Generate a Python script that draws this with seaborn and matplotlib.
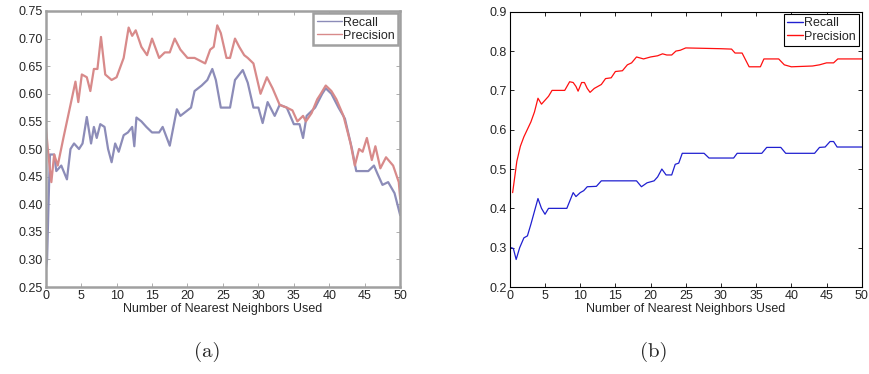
import matplotlib
matplotlib.use("Agg")
import matplotlib.pyplot as plt
import pandas as pd
import seaborn as sns

# (a) values
a_recall_x = [0, 0.2, 0.4, 0.6, 1.2, 1.5, 2.2, 3.0, 3.5, 4.0, 4.7, 5.2, 5.8, 6.4, 6.8, 7.2, 7.7,
              8.3, 8.8, 9.3, 9.8, 10.3, 11.0, 11.6, 12.2, 12.5, 12.8, 13.5, 14.2, 15.0, 16.0,
              16.5, 17.5, 18.5, 19.0, 20.5, 21.0, 22.0, 22.8, 23.5, 24.0, 24.7, 26.0, 26.7,
              27.8, 28.5, 29.3, 30.0, 30.6, 31.3, 32.3, 33.0, 34.0, 35.0, 35.8, 36.3, 36.8,
              38.0, 39.0, 39.5, 40.3, 41.3, 42.2, 43.2, 43.8, 45.5, 46.3, 46.8, 47.5, 48.3,
              49.2, 50.0]
a_recall_y = [0.28, 0.30, 0.40, 0.49, 0.49, 0.46, 0.47, 0.445, 0.50, 0.51, 0.50, 0.51, 0.558,
              0.51, 0.54, 0.52, 0.545, 0.54, 0.50, 0.476, 0.51, 0.495, 0.525, 0.53, 0.54, 0.505,
              0.557, 0.55, 0.54, 0.53, 0.53, 0.54, 0.506, 0.572, 0.56, 0.575, 0.605, 0.615,
              0.625, 0.645, 0.625, 0.575, 0.575, 0.625, 0.643, 0.62, 0.575, 0.575, 0.547, 0.585,
              0.56, 0.58, 0.575, 0.545, 0.545, 0.52, 0.56, 0.575, 0.60, 0.61, 0.60, 0.575,
              0.555, 0.50, 0.46, 0.46, 0.47, 0.455, 0.435, 0.44, 0.42, 0.38]

a_prec_x = [0, 0.3, 0.8, 1.2, 1.7, 2.5, 3.5, 4.2, 4.6, 5.1, 5.8, 6.3, 6.8, 7.3, 7.8, 8.4, 9.3,
            10.0, 11.0, 11.7, 12.2, 12.7, 13.5, 14.3, 15.0, 16.0, 16.8, 17.5, 18.2, 19.0,
            20.0, 21.0, 22.5, 23.2, 23.7, 24.2, 24.7, 25.5, 26.0, 26.7, 27.3, 28.0, 28.5,
            29.3, 30.3, 31.2, 32.0, 33.0, 34.0, 34.8, 35.5, 36.3, 36.7, 37.5, 38.3, 38.8,
            39.5, 40.3, 41.0, 42.0, 43.0, 43.6, 44.2, 44.7, 45.3, 46.0, 46.5, 47.2, 48.0,
            49.0, 49.8, 50.0]
a_prec_y = [0.545, 0.50, 0.44, 0.49, 0.47, 0.52, 0.58, 0.622, 0.585, 0.635, 0.63, 0.605, 0.645,
            0.645, 0.703, 0.635, 0.625, 0.63, 0.665, 0.72, 0.705, 0.715, 0.685, 0.67, 0.70,
            0.665, 0.675, 0.675, 0.70, 0.68, 0.665, 0.665, 0.655, 0.68, 0.685, 0.724, 0.71,
            0.665, 0.665, 0.70, 0.685, 0.67, 0.665, 0.655, 0.60, 0.63, 0.61, 0.58, 0.575,
            0.57, 0.55, 0.56, 0.55, 0.565, 0.59, 0.60, 0.615, 0.605, 0.59, 0.56, 0.51, 0.47,
            0.50, 0.495, 0.52, 0.48, 0.505, 0.465, 0.485, 0.47, 0.44, 0.41]

# (b) values
b_prec_x = [0.4, 1.0, 1.5, 2.0, 3.0, 3.5, 4.0, 4.5, 5.0, 5.5, 6.0, 7.8, 8.5, 9.0, 9.4, 9.7,
            10.2, 10.6, 11.0, 11.4, 12.0, 12.5, 13.0, 13.6, 14.4, 15.0, 16.0, 16.7, 17.3,
            18.0, 19.0, 20.0, 21.0, 21.7, 22.3, 23.0, 23.6, 24.2, 25.0, 30.0, 31.5, 32.0,
            33.0, 34.0, 35.6, 36.1, 38.2, 39.0, 40.0, 43.0, 44.0, 45.0, 46.0, 46.6, 50.0]
b_prec_y = [0.44, 0.52, 0.558, 0.582, 0.62, 0.645, 0.68, 0.665, 0.675, 0.685, 0.70, 0.70,
            0.722, 0.72, 0.71, 0.698, 0.72, 0.72, 0.705, 0.695, 0.705, 0.71, 0.715, 0.73,
            0.732, 0.748, 0.75, 0.765, 0.77, 0.785, 0.78, 0.785, 0.788, 0.793, 0.79, 0.79,
            0.80, 0.802, 0.808, 0.806, 0.805, 0.795, 0.795, 0.76, 0.76, 0.78, 0.78, 0.765,
            0.76, 0.762, 0.765, 0.77, 0.77, 0.78, 0.78]

b_recall_x = [0.2, 0.5, 0.9, 1.4, 2.0, 2.5, 3.0, 4.0, 4.5, 5.0, 5.5, 8.1, 9.0, 9.4, 10.0, 10.5,
              11.0, 12.3, 13.0, 18.0, 18.7, 19.5, 20.5, 21.0, 21.6, 22.2, 23.0, 23.5, 24.0,
              24.5, 27.6, 28.3, 31.8, 32.3, 35.8, 36.5, 38.5, 39.2, 43.3, 44.0, 44.8, 45.5,
              46.0, 46.5, 50.0]
b_recall_y = [0.30, 0.298, 0.27, 0.30, 0.325, 0.33, 0.36, 0.425, 0.40, 0.385, 0.40, 0.40, 0.44,
              0.43, 0.44, 0.445, 0.455, 0.456, 0.47, 0.47, 0.455, 0.465, 0.47, 0.48, 0.50,
              0.485, 0.485, 0.512, 0.515, 0.54, 0.54, 0.528, 0.528, 0.54, 0.54, 0.555, 0.555,
              0.54, 0.54, 0.555, 0.556, 0.57, 0.57, 0.556, 0.556]

sns.set_style("ticks")
plt.rcParams["font.family"] = ["Liberation Sans", "DejaVu Sans"]
plt.rcParams["xtick.direction"] = "in"
plt.rcParams["ytick.direction"] = "in"

fig = plt.figure(figsize=(8.7, 3.74), dpi=100)
ax1 = fig.add_axes([0.0525, 0.2326, 0.4075, 0.738])
ax2 = fig.add_axes([0.586, 0.2326, 0.4045, 0.736])


def panel(ax, rx, ry, px, py, cr, cp, lw, spine_color, spine_lw, ylim, yticks, yfmt, hl):
    rec = pd.DataFrame({"x": rx, "y": ry})
    pre = pd.DataFrame({"x": px, "y": py})
    sns.lineplot(data=rec, x="x", y="y", ax=ax, color=cr, lw=lw, label="Recall", estimator=None)
    sns.lineplot(data=pre, x="x", y="y", ax=ax, color=cp, lw=lw, label="Precision", estimator=None)
    ax.set_xlim(0, 50)
    ax.set_ylim(*ylim)
    ax.set_xticks(range(0, 51, 5))
    ax.set_yticks(yticks)
    ax.set_yticklabels([yfmt.format(t) for t in yticks])
    ax.set_xlabel("Number of Nearest Neighbors Used", fontsize=9, labelpad=1)
    ax.set_ylabel("")
    ax.tick_params(axis="both", labelsize=9, top=True, right=True, length=3,
                   width=0.6, color=spine_color, pad=2)
    for s in ax.spines.values():
        s.set_visible(True)
        s.set_color(spine_color)
        s.set_linewidth(spine_lw)
    leg = ax.legend(loc="upper right", fontsize=9, fancybox=False, framealpha=1,
                    handlelength=hl, handletextpad=0.1, labelspacing=0.1,
                    borderpad=0.25, borderaxespad=0.2)
    leg.get_frame().set_edgecolor(spine_color if spine_lw > 1 else "black")
    leg.get_frame().set_linewidth(spine_lw)
    for line in leg.get_lines():
        line.set_linewidth(1.0)


panel(ax1, a_recall_x, a_recall_y, a_prec_x, a_prec_y, "#8c8cb8", "#d88a8a", 1.6,
      "#a0a0a0", 1.8, (0.25, 0.75), [0.25 + 0.05 * i for i in range(11)], "{:.2f}", 2.0)
panel(ax2, b_recall_x, b_recall_y, b_prec_x, b_prec_y, "#2020d0", "#ff1010", 0.9,
      "black", 0.8, (0.2, 0.9), [0.2 + 0.1 * i for i in range(8)], "{:.1f}", 1.3)

fig.text(0.2385, 0.06, "(a)", fontsize=15, family="cmr10", ha="center", va="center")
fig.text(0.752, 0.06, "(b)", fontsize=15, family="cmr10", ha="center", va="center")

fig.savefig("out.png", dpi=100)
